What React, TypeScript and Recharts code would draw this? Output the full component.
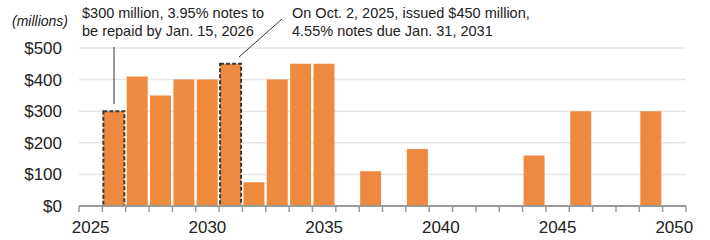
import React from "react";
import { BarChart, Bar, XAxis, YAxis, CartesianGrid, Cell } from "recharts";

// maturity years shown on the axis (one band per year)
const years = [
  2025, 2026, 2027, 2028, 2029, 2030, 2031, 2032, 2033, 2034, 2035, 2036, 2037,
  2038, 2039, 2040, 2041, 2042, 2043, 2044, 2045, 2046, 2047, 2048, 2049, 2050,
];

// principal due, $ millions (null = nothing due)
const amounts: (number | null)[] = [
  null, 300, 410, 350, 400, 400, 450, 75, 400, 450, 450, null, 110,
  null, 180, null, null, null, null, 160, null, 300, null, null, 300, null,
];

const highlighted = [2026, 2031];
const yTicks = [0, 100, 200, 300, 400, 500];
const labelledYears = [2025, 2030, 2035, 2040, 2045, 2050];

const data = years.map((year, i) => ({ year, amount: amounts[i] }));

const ORANGE = "#EE8A3F";
const FONT = "'Liberation Sans', Arial, sans-serif";

const YearTick = (props: any) => {
  const { x, y, payload, index } = props;
  const half = payload.offset || 607 / years.length / 2;
  const axisY = y - 8;
  return (
    <g>
      <line x1={x - half} x2={x - half} y1={axisY} y2={axisY + 6} stroke="#9a9a9a" strokeWidth={1.5} />
      {index === years.length - 1 && (
        <line x1={x + half} x2={x + half} y1={axisY} y2={axisY + 6} stroke="#9a9a9a" strokeWidth={1.5} />
      )}
      {labelledYears.includes(payload.value) && (
        <text x={x} y={axisY + 27} textAnchor="middle" fontSize={17} fill="#222" fontFamily={FONT}>
          {payload.value}
        </text>
      )}
    </g>
  );
};

export default function App() {
  return (
    <div style={{ position: "absolute", left: 0, top: 0, width: 710, height: 240, background: "#fff" }}>
      <BarChart
        width={710}
        height={240}
        data={data}
        margin={{ top: 48, right: 24, bottom: 4, left: 0 }}
        barCategoryGap={1}
      >
        <CartesianGrid vertical={false} stroke="#e6e6e6" strokeWidth={1.5} />
        <XAxis
          dataKey="year"
          type="category"
          interval={0}
          height={30}
          tickSize={6}
          tickMargin={2}
          tickLine={false}
          axisLine={{ stroke: "#9a9a9a", strokeWidth: 2 }}
          tick={<YearTick />}
        />
        <YAxis
          width={79}
          domain={[0, 500]}
          ticks={yTicks}
          tickSize={0}
          tickMargin={17}
          axisLine={false}
          tickLine={false}
          tickFormatter={(v: number) => `$${v}`}
          tick={{ fontSize: 17, fill: "#222", fontFamily: FONT }}
        />
        <Bar dataKey="amount" fill={ORANGE} isAnimationActive={false}>
          {data.map((d) =>
            highlighted.includes(d.year) ? (
              <Cell key={d.year} fill={ORANGE} stroke="#3a3a3a" strokeWidth={2} strokeDasharray="4 2" />
            ) : (
              <Cell key={d.year} fill={ORANGE} />
            )
          )}
        </Bar>
      </BarChart>
      <svg
        width={710}
        height={240}
        style={{ position: "absolute", left: 0, top: 0, pointerEvents: "none" }}
        fontFamily={FONT}
      >
        <text x={12} y={26} fontSize={14} fontStyle="italic" fill="#222">
          (millions)
        </text>
        <text x={82} y={18} fontSize={14.5} fill="#222">
          $300 million, 3.95% notes to
        </text>
        <text x={82} y={36} fontSize={14.5} fill="#222">
          be repaid by Jan. 15, 2026
        </text>
        <line x1={114} x2={114} y1={47} y2={104} stroke="#333" strokeWidth={1} />
        <text x={292} y={18} fontSize={14.5} fill="#222">
          On Oct. 2, 2025, issued $450 million,
        </text>
        <text x={292} y={36} fontSize={14.5} fill="#222">
          4.55% notes due Jan. 31, 2031
        </text>
        <line x1={282} y1={19} x2={239} y2={57} stroke="#333" strokeWidth={1} />
      </svg>
    </div>
  );
}
